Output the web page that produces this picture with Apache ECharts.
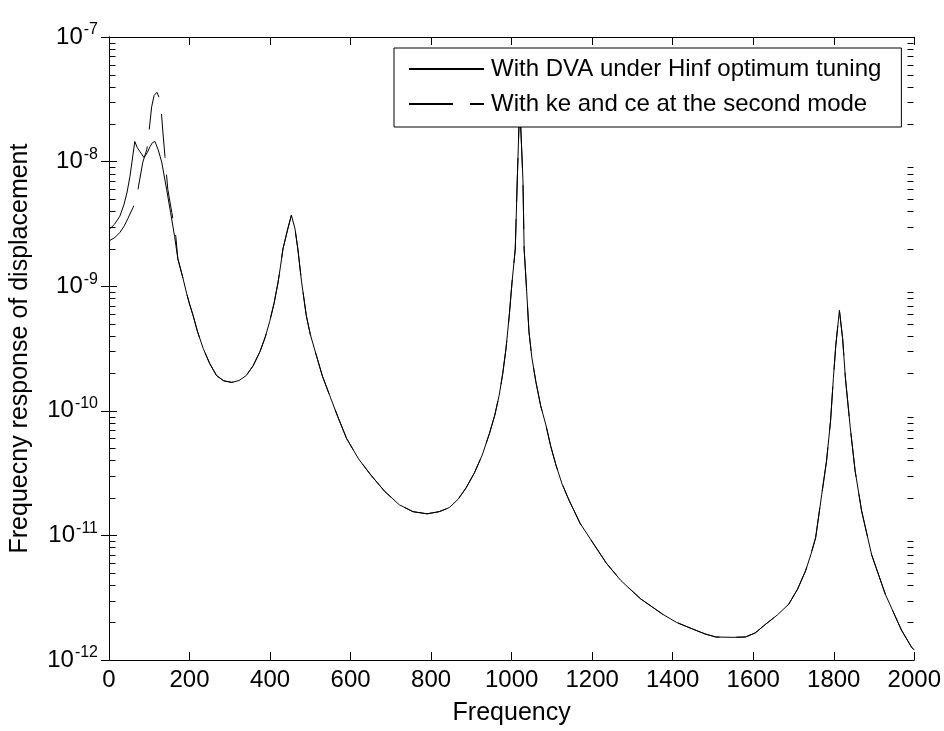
<!DOCTYPE html>
<html><head><meta charset="utf-8">
<script src="https://cdn.jsdelivr.net/npm/echarts@6/dist/echarts.min.js"></script>
<style>html,body{margin:0;padding:0;background:#fff}#c{width:944px;height:731px}</style>
</head><body><div id="c"></div>
<script>
// Low-frequency part (the two curves differ here)
const freqSolidLow = [0, 14, 27, 37, 45, 52, 57, 64, 70, 77, 87, 95, 102, 108, 114, 122, 131, 143, 153, 163, 171];
const respSolidLow = [2.84e-9, 3.15e-9, 3.65e-9, 4.5e-9, 5.7e-9, 7.6e-9, 9.9e-9, 1.45e-8, 1.3e-8, 1.2e-8, 1.08e-8, 1.18e-8, 1.32e-8, 1.42e-8, 1.45e-8, 1.25e-8, 9.9e-9, 6.0e-9, 3.9e-9, 2.5e-9, 1.66e-9];
const freqDashLow = [0, 14, 27, 38, 47, 60, 72, 84, 94, 99, 106, 112, 119, 124, 129, 134, 139, 146, 156, 166, 171];
const respDashLow = [2.31e-9, 2.45e-9, 2.7e-9, 3.05e-9, 3.5e-9, 4.3e-9, 6.0e-9, 9.9e-9, 1.25e-8, 1.7e-8, 2.76e-8, 3.4e-8, 3.6e-8, 3.3e-8, 2.76e-8, 1.7e-8, 1.1e-8, 6.0e-9, 3.9e-9, 2.5e-9, 1.66e-9];
// Common part (both curves coincide)
const freqCommon = [184, 193, 200, 209, 220, 234, 250, 267, 285, 305, 323, 341, 358, 375, 388, 399, 410, 420, 426, 432, 444, 453, 462, 469, 478, 490, 500, 515, 530, 548, 568, 590, 620, 650, 685, 721, 755, 790, 820, 845, 867, 887, 908, 927, 945, 958, 969, 978, 986, 994, 1001, 1009, 1014, 1020, 1028, 1031, 1036, 1043, 1050, 1060, 1072, 1085, 1097, 1110, 1125, 1143, 1170, 1204, 1235, 1271, 1320, 1375, 1410, 1450, 1480, 1507, 1550, 1581, 1605, 1631, 1660, 1688, 1710, 1730, 1743, 1755, 1770, 1782, 1792, 1799, 1805, 1814, 1822, 1829, 1841, 1853, 1869, 1894, 1928, 1968, 1993, 2000];
const respCommon = [1.15e-9, 8.7e-10, 7.2e-10, 5.8e-10, 4.3e-10, 3.16e-10, 2.4e-10, 1.92e-10, 1.74e-10, 1.69e-10, 1.75e-10, 1.92e-10, 2.3e-10, 2.99e-10, 3.9e-10, 5.2e-10, 7.3e-10, 1.08e-9, 1.45e-9, 1.99e-9, 2.88e-9, 3.72e-9, 2.88e-9, 1.99e-9, 1.1e-9, 5.8e-10, 4.1e-10, 2.78e-10, 1.9e-10, 1.33e-10, 9.0e-11, 6.0e-11, 4.1e-11, 3.06e-11, 2.25e-11, 1.76e-11, 1.55e-11, 1.49e-11, 1.55e-11, 1.67e-11, 1.95e-11, 2.41e-11, 3.2e-11, 4.42e-11, 6.6e-11, 9.2e-11, 1.33e-10, 2.0e-10, 3.16e-10, 5.8e-10, 1.08e-9, 1.99e-9, 7.2e-9, 3.0e-8, 7.2e-9, 1.99e-9, 1.08e-9, 4.32e-10, 2.7e-10, 1.72e-10, 1.1e-10, 7.7e-11, 5.2e-11, 3.67e-11, 2.6e-11, 1.9e-11, 1.25e-11, 8.5e-12, 6.0e-12, 4.35e-12, 3.1e-12, 2.33e-12, 2.0e-12, 1.77e-12, 1.62e-12, 1.53e-12, 1.52e-12, 1.53e-12, 1.65e-12, 1.94e-12, 2.3e-12, 2.8e-12, 3.7e-12, 5.2e-12, 7.0e-12, 9.6e-12, 2.12e-11, 3.95e-11, 8.3e-11, 1.82e-10, 3.34e-10, 6.4e-10, 3.8e-10, 1.82e-10, 7.3e-11, 3.3e-11, 1.58e-11, 7.0e-12, 3.37e-12, 1.74e-12, 1.27e-12, 1.2e-12];
const xTicks = [0, 200, 400, 600, 800, 1000, 1200, 1400, 1600, 1800, 2000];
const seriesNames = ['With DVA under Hinf optimum tuning', 'With ke and ce at the second mode'];
const xName = 'Frequency';
const yName = 'Frequecny response of displacement';

const FONT = 'Liberation Sans, Arial, Helvetica, sans-serif';
const FS = 24;
function pairs(fs, vs) { return fs.map((f, i) => [f, vs[i]]); }
const solidData = pairs(freqSolidLow, respSolidLow).concat(pairs(freqCommon, respCommon));
const dashData = pairs(freqDashLow, respDashLow).concat(pairs(freqCommon, respCommon));

const chart = echarts.init(document.getElementById('c'), null, {renderer: 'canvas'});
const G = {left: 109, right: 29, top: 37, bottom: 68};
const yLabel = {
  fontFamily: FONT, fontSize: FS, color: '#000', margin: 11,
  formatter: v => '10{s|' + Math.round(Math.log10(v)) + '}',
  rich: {s: {fontFamily: FONT, fontSize: 16, color: '#000', verticalAlign: 'top', padding: [0, 0, 14, 1]}}
};
const option = {
  animation: false,
  backgroundColor: '#fff',
  grid: {left: G.left, right: G.right, top: G.top, bottom: G.bottom, containLabel: false},
  legend: {
    orient: 'vertical', left: 394, top: 48,
    data: seriesNames,
    itemWidth: 75, itemHeight: 24, itemGap: 11,
    padding: [9, 20, 11, 14],
    backgroundColor: '#fff', borderColor: '#000', borderWidth: 1, borderRadius: 0,
    itemStyle: {opacity: 0},
    textStyle: {fontFamily: FONT, fontSize: FS, lineHeight: 24, color: '#000', padding: [0, 0, 0, 2]},
    selectedMode: false
  },
  xAxis: [{
    type: 'value', min: 0, max: 2000, interval: 200, position: 'bottom',
    name: xName, nameLocation: 'middle', nameGap: 41,
    nameTextStyle: {fontFamily: FONT, fontSize: 25, color: '#000'},
    axisLine: {lineStyle: {color: '#000', width: 1}},
    axisTick: {inside: true, length: 8, lineStyle: {color: '#000'}},
    axisLabel: {fontFamily: FONT, fontSize: FS, color: '#000', margin: 8,
      formatter: v => String(v)},
    splitLine: {show: false}
  }, {
    type: 'value', min: 0, max: 2000, interval: 200, position: 'top',
    axisLine: {lineStyle: {color: '#000', width: 1}},
    axisTick: {inside: true, length: 8, lineStyle: {color: '#000'}},
    axisLabel: {show: false}, splitLine: {show: false}
  }],
  yAxis: [{
    type: 'log', logBase: 10, min: 1e-12, max: 1e-7, position: 'left',
    name: yName, nameLocation: 'middle', nameGap: 76,
    nameTextStyle: {fontFamily: FONT, fontSize: 25, color: '#000'},
    axisLine: {show: true, lineStyle: {color: '#000', width: 1}},
    axisTick: {show: true, inside: true, length: 8, lineStyle: {color: '#000'}},
    axisLabel: yLabel, splitLine: {show: false}
  }, {
    type: 'log', logBase: 10, min: 1e-12, max: 1e-7, position: 'right',
    axisLine: {show: true, lineStyle: {color: '#000', width: 1}},
    axisTick: {show: true, inside: true, length: 8, lineStyle: {color: '#000'}},
    axisLabel: {show: false}, splitLine: {show: false}
  }],
  series: [{
    name: seriesNames[0], type: 'line', xAxisIndex: 0, yAxisIndex: 0,
    data: solidData, showSymbol: false, symbol: 'none', smooth: false,
    lineStyle: {color: '#000', width: 1, type: 'solid'}, itemStyle: {color: '#000'}
  }, {
    name: seriesNames[1], type: 'line', xAxisIndex: 0, yAxisIndex: 0,
    data: dashData, showSymbol: false, symbol: 'none', smooth: false,
    lineStyle: {color: '#000', width: 1, type: [44, 17]}, itemStyle: {color: '#000'}
  }]
};
chart.setOption(option);

// Minor log ticks (2..9 per decade) on left and right, placed via the axis scale
function drawMinor() {
  const els = [];
  const xl = Math.round(chart.convertToPixel({xAxisIndex: 0}, 0)) + 0.5;
  const xr = Math.round(chart.convertToPixel({xAxisIndex: 0}, 2000)) - 0.5;
  for (let e = -12; e < -7; e++) {
    for (let k = 2; k <= 9; k++) {
      const v = k * Math.pow(10, e);
      const y = Math.round(chart.convertToPixel({yAxisIndex: 0}, v)) + 0.5;
      els.push({type: 'line', shape: {x1: xl, y1: y, x2: xl + 6, y2: y}, style: {stroke: '#000', lineWidth: 1}, z: 10});
      els.push({type: 'line', shape: {x1: xr, y1: y, x2: xr - 6, y2: y}, style: {stroke: '#000', lineWidth: 1}, z: 10});
    }
  }
  chart.setOption({graphic: els});
}
drawMinor();
</script></body></html>
